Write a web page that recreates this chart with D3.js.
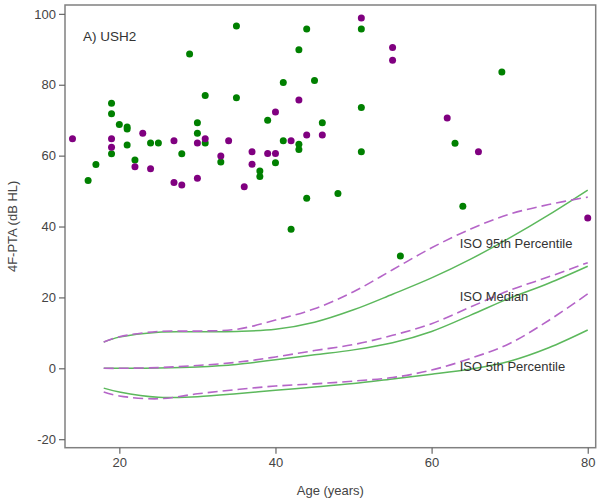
<!DOCTYPE html>
<html>
<head>
<meta charset="utf-8">
<script src="https://cdn.jsdelivr.net/npm/d3@7/dist/d3.min.js"></script>
<style>
  body { margin: 0; background: #fff; }
  svg { display: block; font-family: Arial, "Liberation Sans", sans-serif; }
</style>
</head>
<body>
<svg id="chart" width="600" height="501"></svg>
<script>
// ---- Data ----
const greenAges = [16,17,19,19,19,20,21,21,21,22,24,25,28,29,30,30,31,31,33,35,35,38,38,39,40,41,41,42,43,43,43,44,44,45,46,48,51,51,51,56,63,64,69];
const greenPTA  = [53.0,57.5,74.8,71.8,60.5,68.8,68.1,67.5,63.0,58.8,63.6,63.6,60.5,88.7,69.3,66.3,63.6,77.0,58.2,76.3,96.6,55.7,54.1,70.0,58.0,80.6,64.2,39.2,89.9,63.2,61.7,95.7,48.0,81.2,69.3,49.3,95.7,73.6,61.1,31.7,63.5,45.7,83.6];

const purpleAges = [14,19,19,22,23,24,27,27,28,30,30,31,33,34,36,37,37,39,40,40,42,43,44,46,51,55,55,62,66,80];
const purplePTA  = [64.8,64.8,62.4,56.9,66.3,56.3,64.2,52.4,51.7,63.6,53.6,64.8,59.9,64.2,51.2,61.1,57.6,60.6,60.6,72.3,64.2,75.7,65.8,65.8,98.8,90.5,86.9,70.6,61.1,42.4];

const isoAges = [18,20,25,30,35,40,45,50,55,60,65,70,75,80];
const greenP95    = [7.4,8.8,10.2,10.3,10.4,11.0,13.0,16.5,20.9,25.5,30.8,36.8,43.3,50.3];
const greenMedian = [0,0,0.1,0.4,1.1,2.4,3.8,5.2,7.2,10.4,15.0,19.8,24.0,28.8];
const greenP5     = [-5.6,-6.7,-8.2,-8.0,-7.2,-6.2,-5.3,-4.3,-3.0,-1.7,-0.2,2.0,5.8,10.8];
const purpleP95    = [7.4,8.9,10.4,10.5,11.0,13.6,16.8,21.6,27.8,34.0,39.3,43.5,46.2,48.3];
const purpleMedian = [0,0,0.2,0.8,1.7,3.2,5.0,6.7,9.3,12.6,17.3,22.0,25.8,29.8];
const purpleP5     = [-6.7,-7.8,-8.6,-7.2,-6.0,-5.0,-4.4,-3.6,-2.6,-0.5,2.8,7.0,13.5,21.0];

const xTicks = [20,40,60,80];
const yTicks = [-20,0,20,40,60,80,100];

const curveLabels = ["ISO 95th Percentile","ISO Median","ISO 5th Percentile"];
const curveLabelY = [35.1,20.4,0.4];
const panelTitle = "A) USH2";
const xTitle = "Age (years)";
const yTitle = "4F-PTA (dB HL)";

// ---- Layout ----
const mLeft = 65, mRight = 595.7, mTop = 5, mBottom = 447.7;
const svg = d3.select("#chart");

const x = d3.scaleLinear().domain([13.04, 81.02]).range([mLeft, mRight]);
const y = d3.scaleLinear().domain([-22.4, 102.5]).range([mBottom, mTop]);

// frame
svg.append("rect")
  .attr("x", mLeft).attr("y", mTop)
  .attr("width", mRight - mLeft).attr("height", mBottom - mTop)
  .attr("fill", "none").attr("stroke", "#808080").attr("stroke-width", 1.5);

// axes
const yAxis = svg.append("g").attr("transform", `translate(${mLeft},0)`)
  .call(d3.axisLeft(y).tickValues(yTicks).tickFormat(d => String(d)).tickSize(6).tickPadding(3));
const xAxis = svg.append("g").attr("transform", `translate(0,${mBottom})`)
  .call(d3.axisBottom(x).tickValues(xTicks).tickFormat(d => String(d)).tickSize(6).tickPadding(4));
[xAxis, yAxis].forEach(g => {
  g.select(".domain").remove();
  g.selectAll(".tick line").attr("stroke", "#666").attr("stroke-width", 1.2);
  g.selectAll(".tick text").attr("fill", "#444").style("font-size", "13px")
    .style("font-family", "Arial, 'Liberation Sans', sans-serif");
});

// ISO curves
const line = d3.line().x((d,i) => x(isoAges[i])).y(d => y(d)).curve(d3.curveCatmullRom);
[greenP95, greenMedian, greenP5].forEach(s => {
  svg.append("path").attr("d", line(s)).attr("fill", "none")
    .attr("stroke", "#5cb85c").attr("stroke-width", 1.5);
});
[purpleP95, purpleMedian, purpleP5].forEach(s => {
  svg.append("path").attr("d", line(s)).attr("fill", "none")
    .attr("stroke", "#b565c8").attr("stroke-width", 1.6)
    .attr("stroke-dasharray", "10,5");
});

// curve labels
curveLabels.forEach((t, i) => {
  svg.append("text").attr("x", x(63.6)).attr("y", y(curveLabelY[i]))
    .attr("dy", "0.35em").attr("fill", "#333").style("font-size", "13px").text(t);
});

// points
svg.append("g").selectAll("circle").data(greenAges).join("circle")
  .attr("cx", (d) => x(d)).attr("cy", (d,i) => y(greenPTA[i]))
  .attr("r", 3.5).attr("fill", "#008000");
svg.append("g").selectAll("circle").data(purpleAges).join("circle")
  .attr("cx", (d) => x(d)).attr("cy", (d,i) => y(purplePTA[i]))
  .attr("r", 3.5).attr("fill", "#800080");

// titles
svg.append("text").attr("x", 83).attr("y", 36).attr("dy", "0.35em")
  .attr("fill", "#333").style("font-size", "13.5px").text(panelTitle);
svg.append("text").attr("x", (mLeft + mRight) / 2).attr("y", 490).attr("dy", "0.35em")
  .attr("text-anchor", "middle").attr("fill", "#444").style("font-size", "13px").text(xTitle);
svg.append("text").attr("transform", `translate(12,${(mTop + mBottom) / 2}) rotate(-90)`)
  .attr("dy", "0.35em").attr("text-anchor", "middle").attr("fill", "#444")
  .style("font-size", "13px").text(yTitle);
</script>
</body>
</html>
